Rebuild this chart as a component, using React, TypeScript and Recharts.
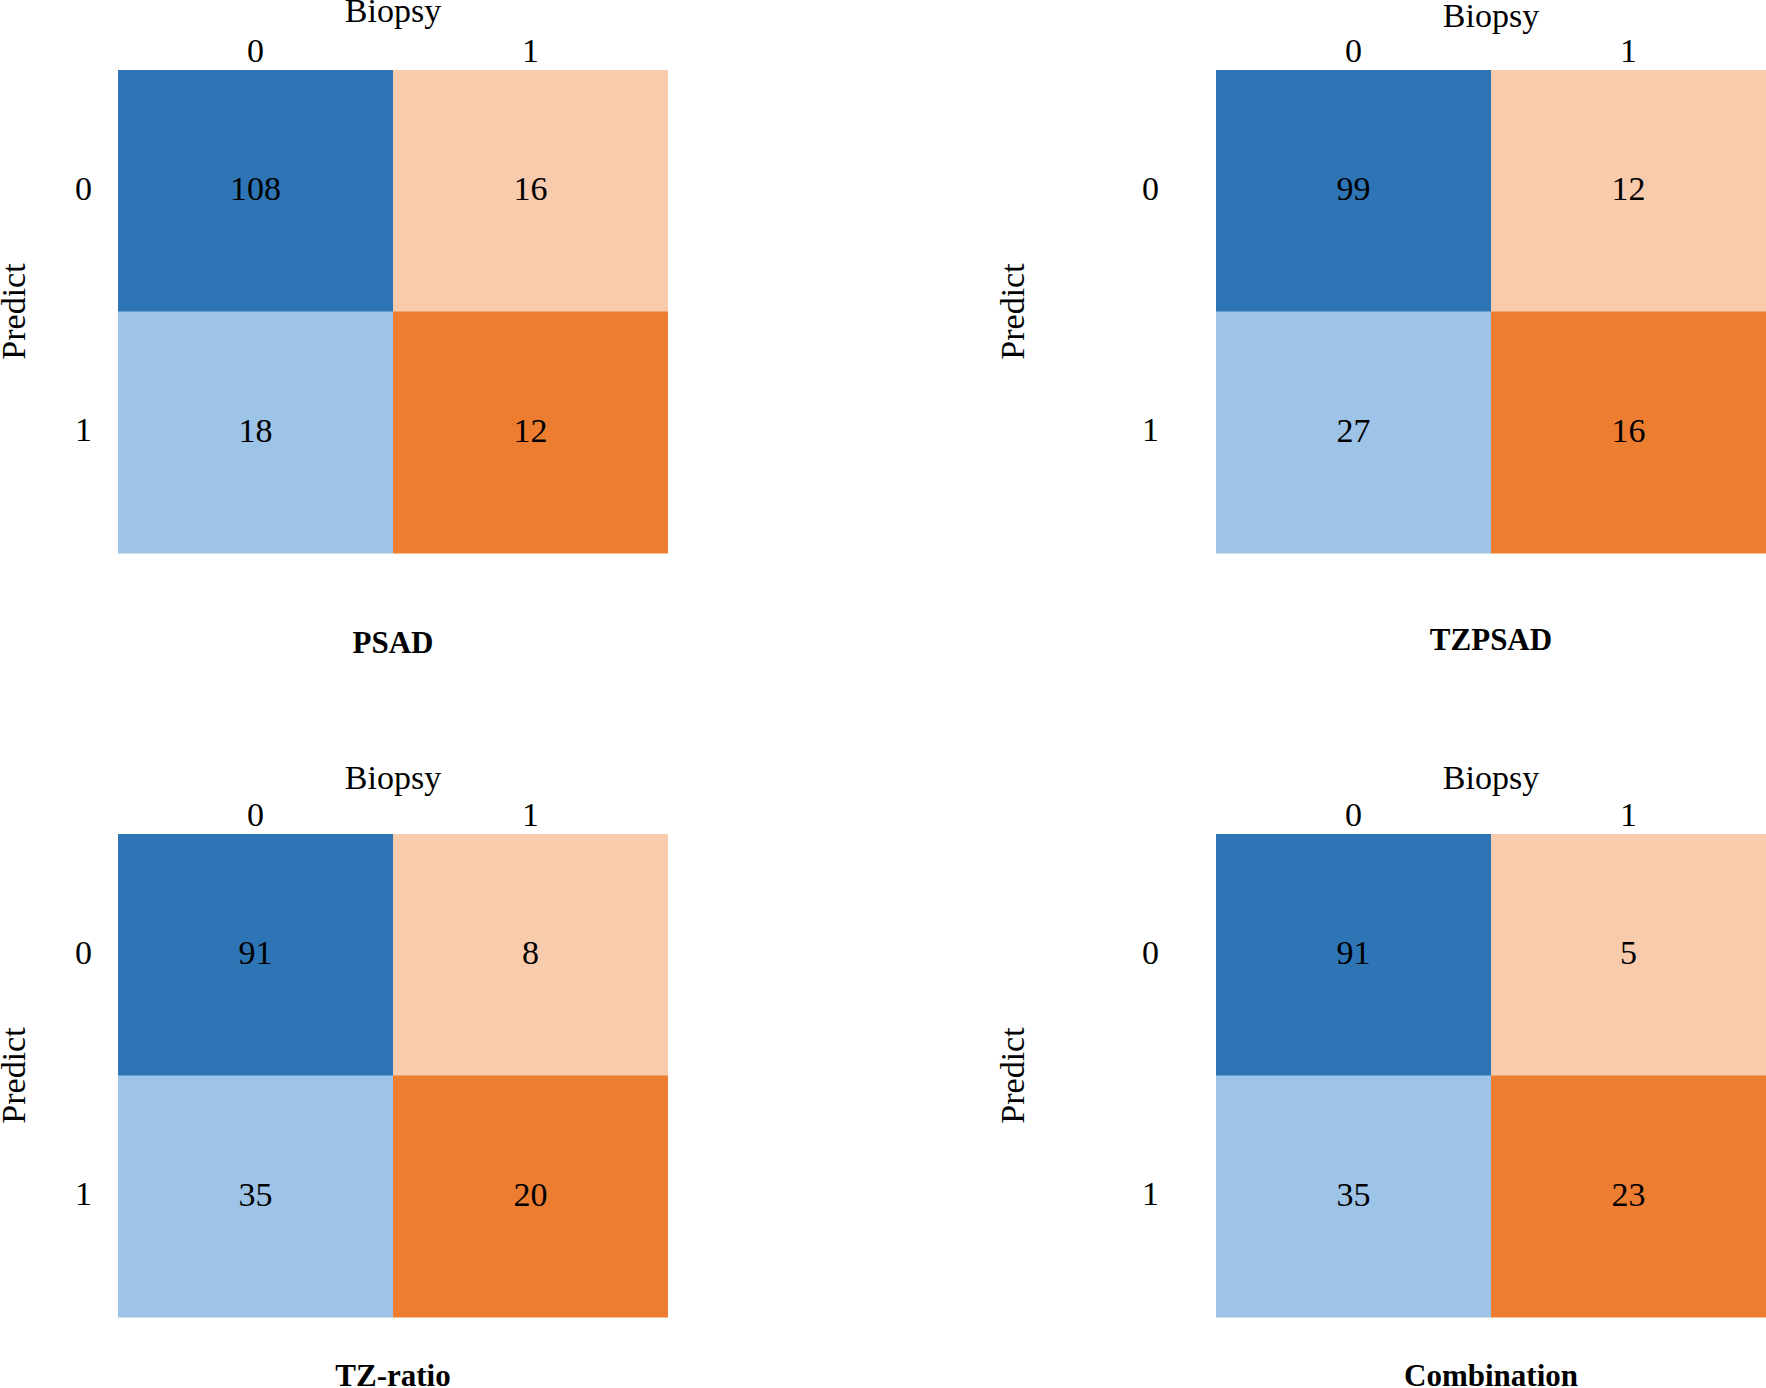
import { Bar, BarChart, Cell, LabelList, XAxis, YAxis } from 'recharts';

// categories / tick labels
const biopsyLabels = ['0', '1'];
const predictLabels = ['0', '1'];
const panelTitles = ['PSAD', 'TZPSAD', 'TZ-ratio', 'Combination'];

// counts per predict row, columns = biopsy 0 / 1
const psadCounts = [[108, 16], [18, 12]];
const tzpsadCounts = [[99, 12], [27, 16]];
const tzRatioCounts = [[91, 8], [35, 20]];
const combinationCounts = [[91, 5], [35, 23]];

const panelCounts = [psadCounts, tzpsadCounts, tzRatioCounts, combinationCounts];

// cell colours: column -> [row 0, row 1]
const columnColors = [
  ['#2e75b6', '#9dc3e6'],
  ['#f8cbad', '#ed7d31'],
];

const FONT = '"Liberation Serif", "Times New Roman", serif';
const FS = 34;

const CHART_W = 883;
const CHART_H = 694;
const PLOT_W = 550;
const PLOT_H = 483;
const TOP_AXIS_H = 70;

// page layout for each panel
const panelLayout = [
  { left: 0, top: 0, plotLeft: 118, tickGap: 26, predictX: 13, biopsyGap: 48, titleGap: 100 },
  { left: 883, top: 0, plotLeft: 333, tickGap: 57, predictX: 129, biopsyGap: 43, titleGap: 97 },
  { left: 0, top: 764, plotLeft: 118, tickGap: 26, predictX: 13, biopsyGap: 45, titleGap: 69 },
  { left: 883, top: 764, plotLeft: 333, tickGap: 57, predictX: 129, biopsyGap: 45, titleGap: 69 },
];

interface VB {
  x: number;
  y: number;
  width: number;
  height: number;
}

function Panel({ index }: { index: number }) {
  const counts = panelCounts[index];
  const lay = panelLayout[index];
  const rows = predictLabels.map((p, i) => ({
    predict: p,
    b0: 1,
    b1: 1,
    n0: counts[i][0],
    n1: counts[i][1],
  }));

  const textStyle = { fontFamily: FONT, fontSize: FS, fill: '#000' };

  return (
    <div style={{ position: 'absolute', left: lay.left, top: lay.top }}>
      <BarChart
        width={CHART_W}
        height={CHART_H}
        data={rows}
        layout="vertical"
        barCategoryGap={0}
        barGap={0}
        margin={{ top: 0, right: CHART_W - lay.plotLeft - PLOT_W, bottom: 0, left: 0 }}
      >
        <XAxis
          xAxisId="top"
          type="number"
          orientation="top"
          domain={[0, 2]}
          ticks={[0.5, 1.5]}
          tickFormatter={(v: number) => biopsyLabels[Math.floor(v)]}
          height={TOP_AXIS_H}
          axisLine={false}
          tickLine={false}
          tickSize={0}
          tickMargin={8}
          tick={textStyle}
          label={{
            value: 'Biopsy',
            content: (props: { viewBox?: VB }) => {
              const vb = props.viewBox as VB;
              return (
                <text
                  x={vb.x + vb.width / 2}
                  y={vb.y + vb.height - lay.biopsyGap}
                  textAnchor="middle"
                  {...textStyle}
                >
                  Biopsy
                </text>
              );
            },
          }}
        />
        <XAxis
          xAxisId="bottom"
          type="number"
          orientation="bottom"
          domain={[0, 2]}
          height={CHART_H - TOP_AXIS_H - PLOT_H}
          axisLine={false}
          tickLine={false}
          tick={false}
          label={{
            value: panelTitles[index],
            content: (props: { viewBox?: VB }) => {
              const vb = props.viewBox as VB;
              return (
                <text
                  x={vb.x + vb.width / 2}
                  y={vb.y + lay.titleGap}
                  textAnchor="middle"
                  fontFamily={FONT}
                  fontSize={31}
                  fontWeight="bold"
                  fill="#000"
                >
                  {panelTitles[index]}
                </text>
              );
            },
          }}
        />
        <YAxis
          type="category"
          dataKey="predict"
          width={lay.plotLeft}
          axisLine={false}
          tickLine={false}
          tickSize={0}
          tickMargin={lay.tickGap}
          tick={{ ...textStyle, dy: -3 }}
          label={{
            value: 'Predict',
            content: (props: { viewBox?: VB }) => {
              const vb = props.viewBox as VB;
              const cy = vb.y + vb.height / 2;
              return (
                <text
                  x={lay.predictX}
                  y={cy}
                  textAnchor="middle"
                  dominantBaseline="central"
                  transform={`rotate(-90 ${lay.predictX} ${cy})`}
                  {...textStyle}
                >
                  Predict
                </text>
              );
            },
          }}
        />
        {biopsyLabels.map((_, col) => (
          <Bar
            key={col}
            xAxisId="top"
            dataKey={`b${col}`}
            stackId="cells"
            isAnimationActive={false}
          >
            {rows.map((_r, row) => (
              <Cell key={row} fill={columnColors[col][row]} />
            ))}
            <LabelList
              dataKey={`n${col}`}
              position="center"
              fill="#000"
              fontSize={FS}
              fontFamily={FONT}
              dy={-3}
            />
          </Bar>
        ))}
      </BarChart>
    </div>
  );
}

export default function App() {
  return (
    <div
      style={{
        position: 'absolute',
        left: 0,
        top: 0,
        width: 1766,
        height: 1388,
        overflow: 'hidden',
        background: '#fff',
        fontFamily: FONT,
      }}
    >
      {panelLayout.map((_, i) => (
        <Panel key={i} index={i} />
      ))}
    </div>
  );
}
